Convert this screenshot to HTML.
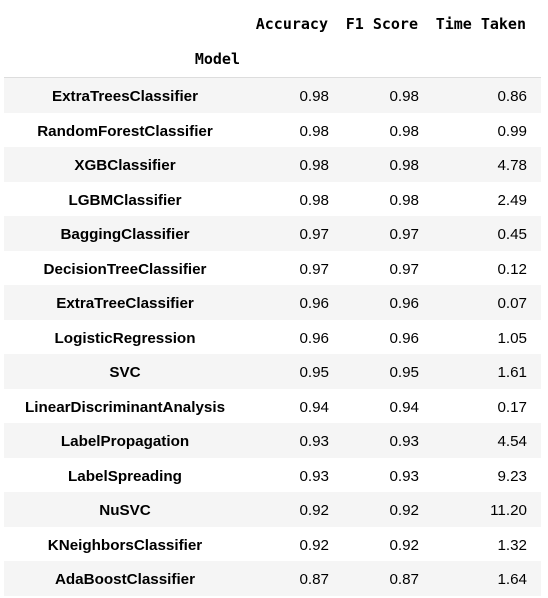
<!DOCTYPE html>
<html><head><meta charset="utf-8"><style>
body{margin:0;width:548px;height:592px;background:#fff;overflow:hidden;position:relative;font-family:"Liberation Sans",Arial,sans-serif;color:#000}
.h{position:absolute;font-family:"DejaVu Sans Mono","Liberation Mono",monospace;font-weight:bold;font-size:15px;line-height:20px;white-space:nowrap}
.row{position:absolute;left:4px;width:537px;height:34.5px}
.row.s{background:#f5f5f5}
.c{position:absolute;top:2px;line-height:34.5px;font-size:15.2px;white-space:nowrap}
.m{left:0;width:242px;text-align:center;font-weight:bold}
.a{right:212px;text-align:right}
.f{right:122px;text-align:right}
.t{right:14px;text-align:right}
.line{position:absolute;left:4px;width:537px;top:77px;height:1px;background:#ddd}
</style></head><body>
<div class="h" style="right:220px;top:14px">Accuracy</div>
<div class="h" style="right:130px;top:14px">F1 Score</div>
<div class="h" style="right:22px;top:14px">Time Taken</div>
<div class="h" style="right:308px;top:49px">Model</div>
<div class="line"></div>
<div id="tb"></div>
<script>
const models=["ExtraTreesClassifier","RandomForestClassifier","XGBClassifier","LGBMClassifier","BaggingClassifier","DecisionTreeClassifier","ExtraTreeClassifier","LogisticRegression","SVC","LinearDiscriminantAnalysis","LabelPropagation","LabelSpreading","NuSVC","KNeighborsClassifier","AdaBoostClassifier"];
const accuracy=["0.98","0.98","0.98","0.98","0.97","0.97","0.96","0.96","0.95","0.94","0.93","0.93","0.92","0.92","0.87"];
const f1=["0.98","0.98","0.98","0.98","0.97","0.97","0.96","0.96","0.95","0.94","0.93","0.93","0.92","0.92","0.87"];
const timeTaken=["0.86","0.99","4.78","2.49","0.45","0.12","0.07","1.05","1.61","0.17","4.54","9.23","11.20","1.32","1.64"];
const tb=document.getElementById('tb');
models.forEach((m,i)=>{
  const r=document.createElement('div');
  r.className='row'+(i%2===0?' s':'');
  r.style.top=(78+i*34.5)+'px';
  
  
  const cells=[['m',m,'model-cell'],['a',accuracy[i],'accuracy-cell'],['f',f1[i],'f1-cell'],['t',timeTaken[i],'time-cell']];
  cells.forEach(c=>{
    const d=document.createElement('div');
    d.className='c '+c[0];
    d.textContent=c[1];
    
    
    r.appendChild(d);
  });
  tb.appendChild(r);
});
</script>
</body></html>
